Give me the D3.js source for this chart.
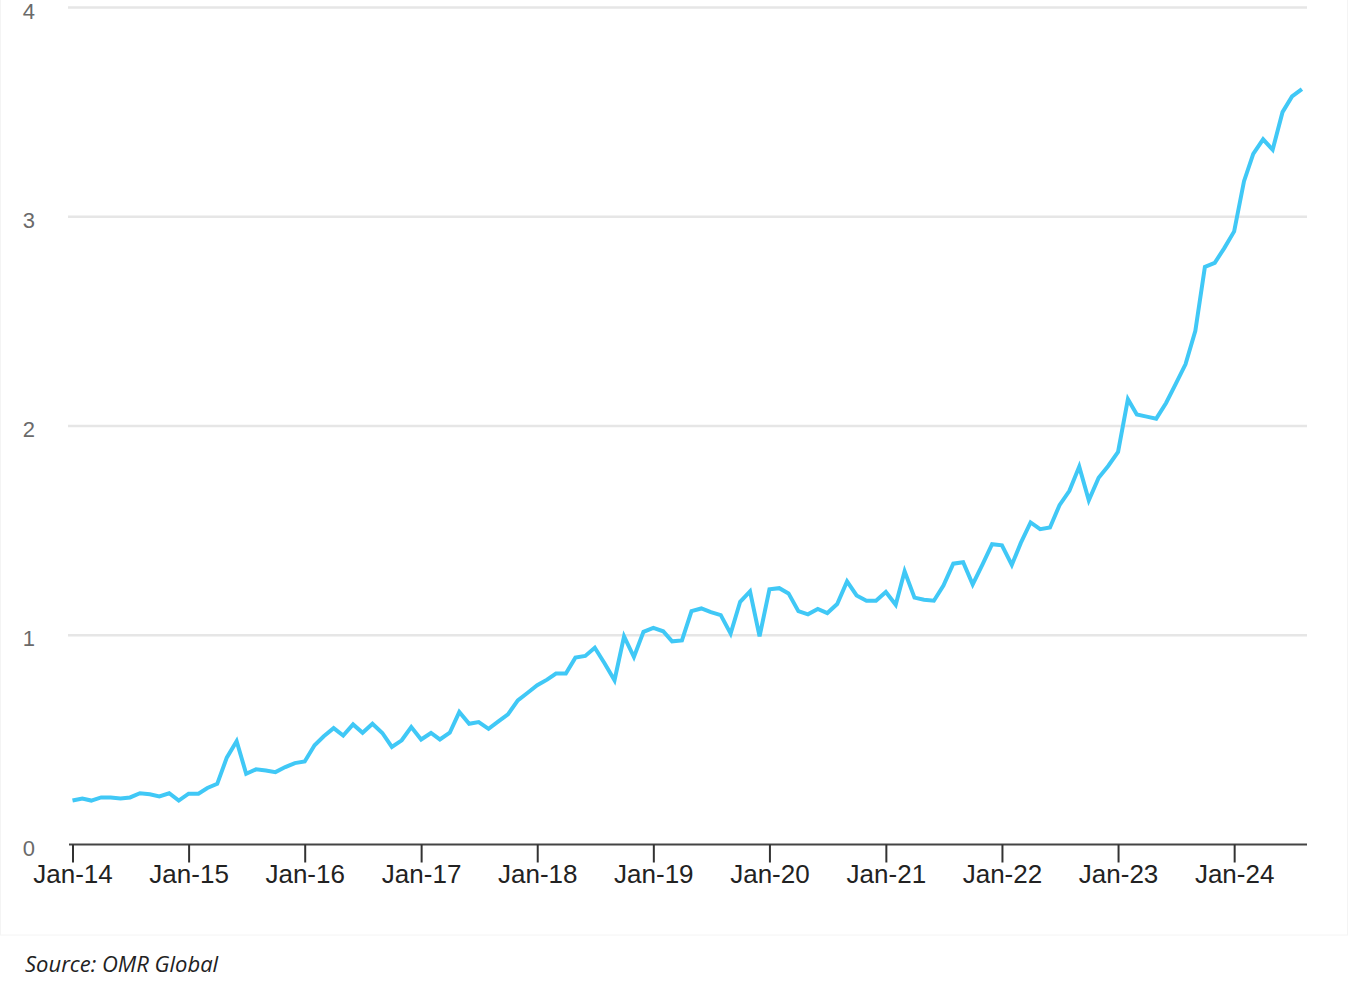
<!DOCTYPE html>
<html>
<head>
<meta charset="utf-8">
<script src="https://cdn.jsdelivr.net/npm/d3@7"></script>
<style>
  body { margin: 0; background: #fff; }
  svg { display: block; }
</style>
</head>
<body>
<svg></svg>
<script>
// monthly values, Jan-14 .. Aug-24
var startYear = 2014;
var values = [
  0.21, 0.22, 0.21, 0.225, 0.225, 0.22, 0.225, 0.245, 0.24, 0.23, 0.245, 0.21,
  0.243, 0.243, 0.27, 0.29, 0.415, 0.494, 0.338, 0.359, 0.354, 0.346, 0.37, 0.389,
  0.397, 0.474, 0.517, 0.556, 0.521, 0.574, 0.534, 0.577, 0.533, 0.466, 0.498, 0.561,
  0.502, 0.533, 0.502, 0.534, 0.633, 0.577, 0.585, 0.553, 0.588, 0.622, 0.689, 0.724,
  0.761, 0.788, 0.817, 0.817, 0.893, 0.901, 0.94, 0.865, 0.785, 0.995, 0.896, 1.016,
  1.035, 1.019, 0.971, 0.975, 1.115, 1.128, 1.11, 1.096, 1.008, 1.16, 1.21, 0.995,
  1.22, 1.225, 1.20, 1.115, 1.10, 1.126, 1.106, 1.149, 1.257, 1.19, 1.165, 1.165,
  1.207, 1.146, 1.306, 1.18, 1.17, 1.165, 1.237, 1.342, 1.349, 1.243, 1.339, 1.435,
  1.43, 1.336, 1.44, 1.539, 1.507, 1.515, 1.622, 1.69, 1.806, 1.645, 1.753, 1.809,
  1.876, 2.128, 2.055, 2.045, 2.035, 2.11, 2.20, 2.295, 2.455, 2.76, 2.78, 2.85,
  2.93, 3.17, 3.30, 3.37, 3.32, 3.50, 3.575, 3.61
];
var yTicks = [0, 1, 2, 3, 4];
var sourceText = "Source: OMR Global";

var width = 1362;
var height = 993;

var data = values.map(function(v, i) {
  return { date: new Date(startYear, i, 1), value: v };
});

var xScale = d3.scaleTime()
               .domain([new Date(2014, 0, 1), new Date(2024, 7, 17)])
               .range([72.5, 1307]);

var yScale = d3.scaleLinear()
               .domain([0, 4])
               .range([844.5, 7.5]);

var svg = d3.select("svg")
    .attr("width", width)
    .attr("height", height);

// faint frame of the chart picture
svg.append("rect")
    .attr("x", 0.5)
    .attr("y", -2)
    .attr("width", 1347)
    .attr("height", 937)
    .attr("fill", "none")
    .attr("stroke", "#f4f4f4")
    .attr("stroke-width", 1);

// gridlines
svg.append("g")
  .selectAll("line")
  .data(yTicks.filter(d => d > 0))
  .enter()
  .append("line")
    .attr("x1", 68)
    .attr("x2", 1307)
    .attr("y1", d => yScale(d))
    .attr("y2", d => yScale(d))
    .attr("stroke", "#e6e6e6")
    .attr("stroke-width", 2.5);

// y labels
svg.append("g")
  .selectAll("text")
  .data(yTicks)
  .enter()
  .append("text")
    .text(d => d)
    .attr("x", 35)
    .attr("y", d => yScale(d) + 11)
    .style("text-anchor", "end")
    .style("font-family", "'Liberation Sans', Arial, sans-serif")
    .style("font-size", "22px")
    .style("fill", "#6a6a6a");

// x axis
var xAxis = d3.axisBottom(xScale)
              .ticks(d3.timeYear.every(1))
              .tickFormat(d3.timeFormat("%b-%y"))
              .tickSize(18)
              .tickSizeOuter(0)
              .tickPadding(2);

var gx = svg.append("g")
    .attr("transform", "translate(0," + 844.5 + ")")
    .call(xAxis);

gx.select(".domain")
    .attr("d", "M69," + 0 + "H1307")
    .attr("stroke", "#444")
    .attr("stroke-width", 2);

gx.selectAll(".tick line")
    .attr("stroke", "#333")
    .attr("stroke-width", 2);

gx.selectAll(".tick text")
    .style("font-family", "'Liberation Sans', Arial, sans-serif")
    .style("font-size", "26px")
    .style("fill", "#222");

// the series
var line = d3.line()
             .x(d => xScale(d.date))
             .y(d => yScale(d.value));

svg.append("path")
    .datum(data)
    .attr("d", line)
    .attr("fill", "none")
    .attr("stroke", "#40c8f6")
    .attr("stroke-width", 4)
    .attr("stroke-linejoin", "miter");

// source note
svg.append("text")
    .text(sourceText)
    .attr("x", 25)
    .attr("y", 972)
    .style("font-family", "'Open Sans', sans-serif")
    .style("font-style", "italic")
    .style("font-size", "22px")
    .style("fill", "#222");
</script>
</body>
</html>
